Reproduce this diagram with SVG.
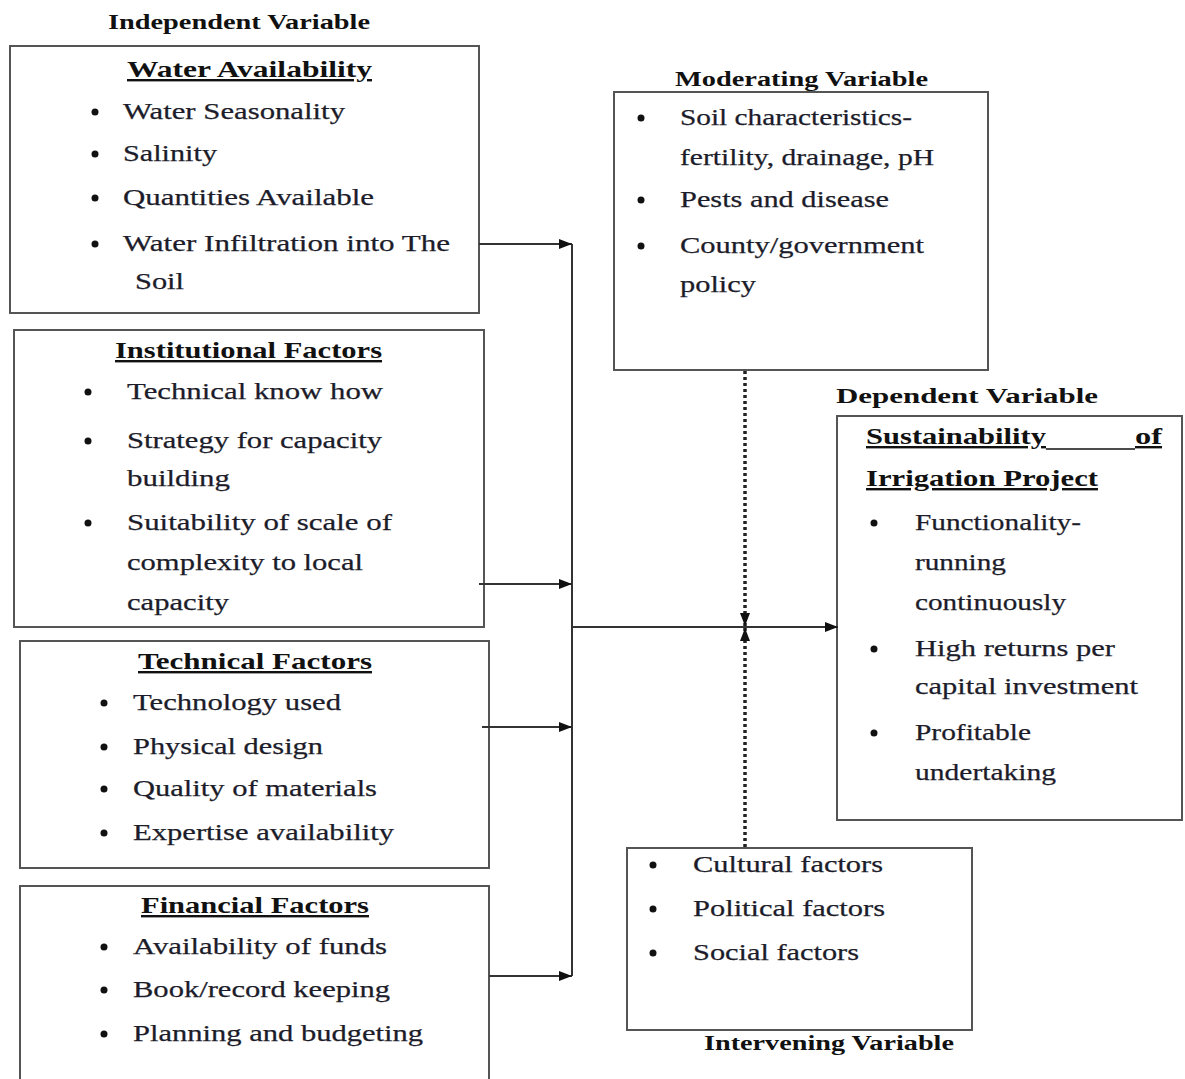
<svg xmlns="http://www.w3.org/2000/svg" width="1185" height="1079" viewBox="0 0 1185 1079">
<defs>
<style>
.box{fill:#fff;stroke:#555;stroke-width:2}
.t{font-family:"Liberation Serif","Times New Roman",serif;font-size:24px;fill:#1c1c2a;stroke:#1c1c2a;stroke-width:0.25}
.h{font-family:"Liberation Serif","Times New Roman",serif;font-size:24px;font-weight:bold;fill:#111;text-decoration:underline}
.v{font-family:"Liberation Serif","Times New Roman",serif;font-size:20px;font-weight:bold;fill:#111}
.b{fill:#111}
.c{stroke:#333;stroke-width:2;fill:none}
.d{stroke:#222;stroke-width:3.5;fill:none;stroke-dasharray:3 3}
</style>
<marker id="ah" markerUnits="userSpaceOnUse" markerWidth="14" markerHeight="12" refX="13" refY="6" orient="auto">
<path d="M0,1 L13,6 L0,11 Z" fill="#111"/>
</marker>
</defs>
<rect width="1185" height="1079" fill="#fff"/>

<text class="v" x="108" y="29" textLength="262" lengthAdjust="spacingAndGlyphs">Independent Variable</text>
<text class="v" x="675" y="86" textLength="253" lengthAdjust="spacingAndGlyphs">Moderating Variable</text>
<text class="v" x="836" y="403" textLength="262" lengthAdjust="spacingAndGlyphs">Dependent Variable</text>
<text class="v" x="704" y="1050" textLength="250" lengthAdjust="spacingAndGlyphs">Intervening Variable</text>

<g id="water">
<rect class="box" x="10" y="46" width="469" height="267"/>
<text class="h" x="127" y="77" textLength="245" lengthAdjust="spacingAndGlyphs">Water Availability</text>
<circle class="b" cx="95" cy="112" r="3.5"/><text class="t" x="123" y="119" textLength="222" lengthAdjust="spacingAndGlyphs">Water Seasonality</text>
<circle class="b" cx="95" cy="154" r="3.5"/><text class="t" x="123" y="161" textLength="94" lengthAdjust="spacingAndGlyphs">Salinity</text>
<circle class="b" cx="95" cy="198" r="3.5"/><text class="t" x="123" y="205" textLength="251" lengthAdjust="spacingAndGlyphs">Quantities Available</text>
<circle class="b" cx="95" cy="244" r="3.5"/><text class="t" x="123" y="251" textLength="327" lengthAdjust="spacingAndGlyphs">Water Infiltration into The</text>
<text class="t" x="135" y="289" textLength="49" lengthAdjust="spacingAndGlyphs">Soil</text>
</g>

<g id="institutional">
<rect class="box" x="14" y="330" width="470" height="297"/>
<text class="h" x="115" y="358" textLength="267" lengthAdjust="spacingAndGlyphs">Institutional Factors</text>
<circle class="b" cx="88" cy="392" r="3.5"/><text class="t" x="127" y="399" textLength="256" lengthAdjust="spacingAndGlyphs">Technical know how</text>
<circle class="b" cx="88" cy="441" r="3.5"/><text class="t" x="127" y="448" textLength="255" lengthAdjust="spacingAndGlyphs">Strategy for capacity</text>
<text class="t" x="127" y="486" textLength="103" lengthAdjust="spacingAndGlyphs">building</text>
<circle class="b" cx="88" cy="523" r="3.5"/><text class="t" x="127" y="530" textLength="265" lengthAdjust="spacingAndGlyphs">Suitability of scale of</text>
<text class="t" x="127" y="570" textLength="236" lengthAdjust="spacingAndGlyphs">complexity to local</text>
<text class="t" x="127" y="610" textLength="102" lengthAdjust="spacingAndGlyphs">capacity</text>
</g>

<g id="technical">
<rect class="box" x="20" y="641" width="469" height="227"/>
<text class="h" x="138" y="669" textLength="234" lengthAdjust="spacingAndGlyphs">Technical Factors</text>
<circle class="b" cx="104" cy="703" r="3.5"/><text class="t" x="133" y="710" textLength="208" lengthAdjust="spacingAndGlyphs">Technology used</text>
<circle class="b" cx="104" cy="747" r="3.5"/><text class="t" x="133" y="754" textLength="190" lengthAdjust="spacingAndGlyphs">Physical design</text>
<circle class="b" cx="104" cy="789" r="3.5"/><text class="t" x="133" y="796" textLength="244" lengthAdjust="spacingAndGlyphs">Quality of materials</text>
<circle class="b" cx="104" cy="833" r="3.5"/><text class="t" x="133" y="840" textLength="261" lengthAdjust="spacingAndGlyphs">Expertise availability</text>
</g>

<g id="financial">
<rect class="box" x="20" y="886" width="469" height="205"/>
<text class="h" x="141" y="913" textLength="228" lengthAdjust="spacingAndGlyphs">Financial Factors</text>
<circle class="b" cx="104" cy="947" r="3.5"/><text class="t" x="133" y="954" textLength="254" lengthAdjust="spacingAndGlyphs">Availability of funds</text>
<circle class="b" cx="104" cy="990" r="3.5"/><text class="t" x="133" y="997" textLength="257" lengthAdjust="spacingAndGlyphs">Book/record keeping</text>
<circle class="b" cx="104" cy="1034" r="3.5"/><text class="t" x="133" y="1041" textLength="290" lengthAdjust="spacingAndGlyphs">Planning and budgeting</text>
</g>

<g id="moderating">
<rect class="box" x="614" y="92" width="374" height="278"/>
<circle class="b" cx="641" cy="118" r="3.5"/><text class="t" x="680" y="125" textLength="232" lengthAdjust="spacingAndGlyphs">Soil characteristics-</text>
<text class="t" x="680" y="165" textLength="254" lengthAdjust="spacingAndGlyphs">fertility, drainage, pH</text>
<circle class="b" cx="641" cy="200" r="3.5"/><text class="t" x="680" y="207" textLength="209" lengthAdjust="spacingAndGlyphs">Pests and disease</text>
<circle class="b" cx="641" cy="246" r="3.5"/><text class="t" x="680" y="253" textLength="244" lengthAdjust="spacingAndGlyphs">County/government</text>
<text class="t" x="680" y="292" textLength="76" lengthAdjust="spacingAndGlyphs">policy</text>
</g>

<g id="dependent">
<rect class="box" x="837" y="416" width="345" height="404"/>
<text class="h" x="866" y="444" textLength="180" lengthAdjust="spacingAndGlyphs">Sustainability</text>
<text class="h" x="1135" y="444" textLength="27" lengthAdjust="spacingAndGlyphs">of</text>
<line x1="1046" y1="449" x2="1135" y2="449" stroke="#111" stroke-width="1.7"/>
<text class="h" x="866" y="486" textLength="232" lengthAdjust="spacingAndGlyphs">Irrigation Project</text>
<circle class="b" cx="874" cy="523" r="3.5"/><text class="t" x="915" y="530" textLength="166" lengthAdjust="spacingAndGlyphs">Functionality-</text>
<text class="t" x="915" y="570" textLength="91" lengthAdjust="spacingAndGlyphs">running</text>
<text class="t" x="915" y="610" textLength="151" lengthAdjust="spacingAndGlyphs">continuously</text>
<circle class="b" cx="874" cy="649" r="3.5"/><text class="t" x="915" y="656" textLength="200" lengthAdjust="spacingAndGlyphs">High returns per</text>
<text class="t" x="915" y="694" textLength="223" lengthAdjust="spacingAndGlyphs">capital investment</text>
<circle class="b" cx="874" cy="733" r="3.5"/><text class="t" x="915" y="740" textLength="116" lengthAdjust="spacingAndGlyphs">Profitable</text>
<text class="t" x="915" y="780" textLength="141" lengthAdjust="spacingAndGlyphs">undertaking</text>
</g>

<g id="intervening">
<rect class="box" x="627" y="848" width="345" height="182"/>
<circle class="b" cx="653" cy="865" r="3.5"/><text class="t" x="693" y="872" textLength="190" lengthAdjust="spacingAndGlyphs">Cultural factors</text>
<circle class="b" cx="653" cy="909" r="3.5"/><text class="t" x="693" y="916" textLength="192" lengthAdjust="spacingAndGlyphs">Political factors</text>
<circle class="b" cx="653" cy="953" r="3.5"/><text class="t" x="693" y="960" textLength="166" lengthAdjust="spacingAndGlyphs">Social factors</text>
</g>

<g id="connectors">
<line class="c" x1="572" y1="244" x2="572" y2="976"/>
<line class="c" x1="479" y1="244" x2="572" y2="244" marker-end="url(#ah)"/>
<line class="c" x1="479" y1="584" x2="572" y2="584" marker-end="url(#ah)"/>
<line class="c" x1="482" y1="727" x2="572" y2="727" marker-end="url(#ah)"/>
<line class="c" x1="489" y1="976" x2="572" y2="976" marker-end="url(#ah)"/>
<line class="c" x1="572" y1="627" x2="838" y2="627" marker-end="url(#ah)"/>
<line class="d" x1="745" y1="371" x2="745" y2="626" marker-end="url(#ah)"/>
<line class="d" x1="745" y1="847" x2="745" y2="628" marker-end="url(#ah)"/>
</g>
</svg>
